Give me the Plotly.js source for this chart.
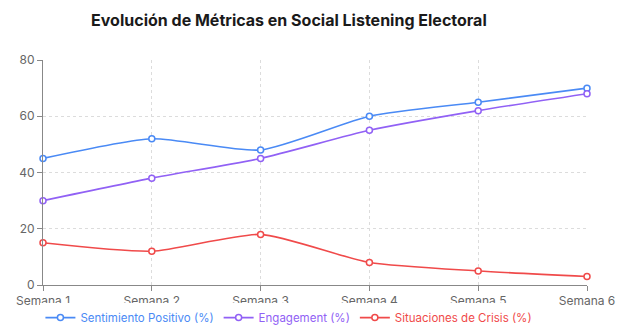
<!DOCTYPE html>
<html>
<head>
<meta charset="utf-8">
<script src="https://cdn.plot.ly/plotly-3.0.1.min.js"></script>
<style>html,body{margin:0;padding:0;background:#fff;}#chart{width:620px;height:335px;}</style>
</head>
<body>
<div id="chart"></div>
<script>
const weeks = ["Semana 1","Semana 2","Semana 3","Semana 4","Semana 5","Semana 6"];
const sentimiento = [45, 52, 48, 60, 65, 70];
const engagement = [30, 38, 45, 55, 62, 68];
const crisis = [15, 12, 18, 8, 5, 3];
const seriesNames = ["Sentimiento Positivo (%)","Engagement (%)","Situaciones de Crisis (%)"];
const colors = ["#4a8af5","#9161f5","#f04a4a"];
const yTicks = [0, 20, 40, 60, 80];

const idx = weeks.map((w,i)=>i);
function mk(y, i){
  return {
    x: idx, y: y, type: 'scatter', mode: 'lines+markers',
    name: '<span style="color:'+colors[i]+'">'+seriesNames[i]+'</span>',
    line: {color: colors[i], width: 1.6, shape: 'spline', smoothing: 0.6},
    marker: {symbol: 'circle', size: 6, color: '#fff', line: {color: colors[i], width: 1.5}},
    cliponaxis: false
  };
}
const data = [mk(sentimiento,0), mk(engagement,1), mk(crisis,2)];
const layout = {
  width: 620, height: 335,
  margin: {l: 43, r: 33, t: 60, b: 50},
  paper_bgcolor: '#fff', plot_bgcolor: '#fff',
  font: {family: 'Inter, "Open Sans", sans-serif', size: 12, color: '#666'},
  title: {text: '<b>Evolución de Métricas en Social Listening Electoral</b>', x: 0.466, xref: 'container', xanchor: 'center', y: 0.94, yref: 'container', yanchor: 'middle', font: {size: 16, color: '#1a1a1a', family: 'Inter, sans-serif'}},
  xaxis: {range: [0,5], tickvals: idx, ticktext: weeks, showgrid: true, gridcolor: '#dcdcdc', griddash: '3px,3px', gridwidth: 1,
    showline: true, linecolor: '#888', linewidth: 1, ticks: 'outside', ticklen: 5, tickcolor: '#888', zeroline: false, fixedrange: true},
  yaxis: {range: [0,80], tickvals: yTicks, showgrid: true, gridcolor: '#dcdcdc', griddash: '3px,3px', gridwidth: 1,
    showline: true, linecolor: '#888', linewidth: 1, ticks: 'outside', ticklen: 5, tickcolor: '#888', zeroline: false, fixedrange: true},
  showlegend: true,
  legend: {orientation: 'h', x: 0.466, xanchor: 'center', xref: 'container', y: 0.052, yref: 'container', yanchor: 'middle', itemwidth: 30, font: {size: 11.5}, tracegroupgap: 0}
};
Plotly.newPlot('chart', data, layout, {displayModeBar: false, staticPlot: true});
</script>
</body>
</html>
